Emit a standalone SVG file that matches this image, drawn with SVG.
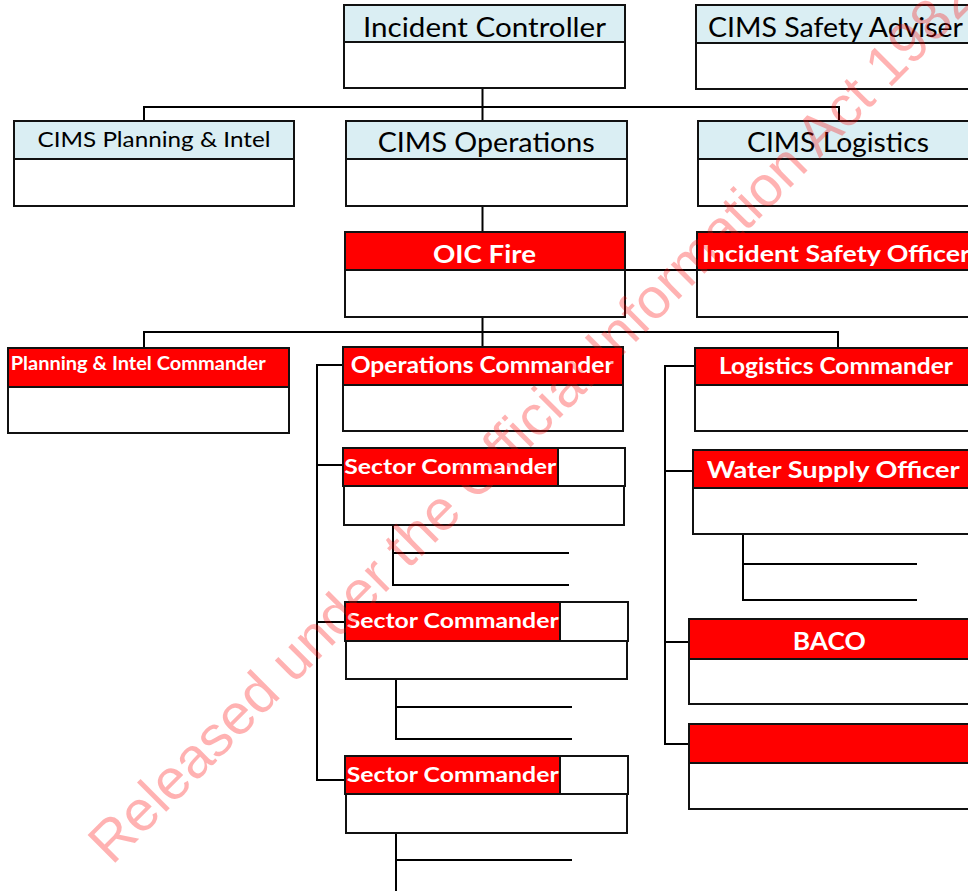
<svg xmlns="http://www.w3.org/2000/svg" width="968" height="891" viewBox="0 0 968 891">
<style>
.hb{fill:#DAEEF3;stroke:#111;stroke-width:2}
.hr{fill:#FF0000;stroke:#111;stroke-width:2}
.bd{fill:#fff;stroke:#111;stroke-width:2}
.wh{fill:#fff;stroke:#111;stroke-width:2}
.c{fill:none;stroke:#000;stroke-width:2}
.t1{font-family:Lato,"Liberation Sans",sans-serif;font-size:27px;fill:#000}
.t2{font-family:Lato,"Liberation Sans",sans-serif;font-size:22px;fill:#000}
.tw{font-family:Lato,"Liberation Sans",sans-serif;font-weight:bold;fill:#fff}
.wm{font-family:"Liberation Sans",Arial,sans-serif;font-size:57px;fill:#FF0000;fill-opacity:0.3}
</style>
<g id="connectors">
<path class="c" d="M482.5 88V121M144 121V107H839V121"/>
<path class="c" d="M482.5 206V232"/>
<path class="c" d="M625 270H697"/>
<path class="c" d="M482.5 317V347M144 348V332H838V348"/>
<path class="c" d="M343 365H317V780H345M317 465H343M317 622H345"/>
<path class="c" d="M695 366H665V744H689M665 471H693M665 642H689"/>
<path class="c" d="M393 525V585H569M393 553H569"/>
<path class="c" d="M396 679V739H572M396 707H572"/>
<path class="c" d="M396 833V895M396 860H572"/>
<path class="c" d="M743 534V600H917M743 564H917"/>
</g>
<g id="incident-controller">
<rect class="bd" x="344" y="42" width="281" height="46"/>
<rect class="hb" x="344" y="5" width="281" height="37"/>
<text class="t1" x="363" y="36.5" textLength="243" lengthAdjust="spacingAndGlyphs">Incident Controller</text>
</g>
<g id="cims-safety-adviser">
<rect class="bd" x="696" y="43" width="300" height="46"/>
<rect class="hb" x="696" y="5" width="300" height="38"/>
<text class="t1" x="708" y="37" textLength="255" lengthAdjust="spacingAndGlyphs">CIMS Safety Adviser</text>
</g>
<g id="cims-planning">
<rect class="bd" x="14" y="159" width="280" height="47"/>
<rect class="hb" x="14" y="121" width="280" height="38"/>
<text class="t2" x="37.5" y="147" textLength="233" lengthAdjust="spacingAndGlyphs">CIMS Planning &amp; Intel</text>
</g>
<g id="cims-operations">
<rect class="bd" x="346" y="159" width="281" height="47"/>
<rect class="hb" x="346" y="121" width="281" height="38"/>
<text class="t1" x="377.7" y="152" textLength="217" lengthAdjust="spacingAndGlyphs">CIMS Operations</text>
</g>
<g id="cims-logistics">
<rect class="bd" x="698" y="159" width="300" height="47"/>
<rect class="hb" x="698" y="121" width="300" height="38"/>
<text class="t1" x="747" y="152" textLength="182" lengthAdjust="spacingAndGlyphs">CIMS Logistics</text>
</g>
<g id="oic-fire">
<rect class="bd" x="345" y="270" width="280" height="47"/>
<rect class="hr" x="345" y="232" width="280" height="38"/>
<text class="tw" x="433" y="263" font-size="25.5" textLength="103" lengthAdjust="spacingAndGlyphs">OIC Fire</text>
</g>
<g id="incident-safety-officer">
<rect class="bd" x="697" y="270" width="300" height="47"/>
<rect class="hr" x="697" y="232" width="300" height="38"/>
<text class="tw" x="702" y="261.5" font-size="23" textLength="268" lengthAdjust="spacingAndGlyphs">Incident Safety Officer</text>
</g>
<g id="planning-intel-commander">
<rect class="bd" x="8" y="387" width="281" height="46"/>
<rect class="hr" x="8" y="348" width="281" height="39"/>
<text class="tw" x="10.7" y="370" font-size="18.5" textLength="255" lengthAdjust="spacingAndGlyphs">Planning &amp; Intel Commander</text>
</g>
<g id="operations-commander">
<rect class="bd" x="343" y="385" width="280" height="46"/>
<rect class="hr" x="343" y="347" width="280" height="38"/>
<text class="tw" x="350.7" y="372.5" font-size="23" textLength="263" lengthAdjust="spacingAndGlyphs">Operations Commander</text>
</g>
<g id="logistics-commander">
<rect class="bd" x="695" y="385" width="300" height="46"/>
<rect class="hr" x="695" y="348" width="300" height="37"/>
<text class="tw" x="719" y="374.3" font-size="22.5" textLength="234" lengthAdjust="spacingAndGlyphs">Logistics Commander</text>
</g>
<g id="sector-commander-1">
<rect class="bd" x="344" y="486" width="280" height="39"/>
<rect class="wh" x="343" y="448" width="282" height="38"/>
<rect class="hr" x="343" y="448" width="215" height="38"/>
<text class="tw" x="344.3" y="474.3" font-size="21.5" textLength="212" lengthAdjust="spacingAndGlyphs">Sector Commander</text>
</g>
<g id="water-supply-officer">
<rect class="bd" x="693" y="488" width="300" height="46"/>
<rect class="hr" x="693" y="450" width="300" height="38"/>
<text class="tw" x="706.7" y="477.7" font-size="23.5" textLength="253" lengthAdjust="spacingAndGlyphs">Water Supply Officer</text>
</g>
<g id="sector-commander-2">
<rect class="bd" x="346" y="641" width="281" height="38"/>
<rect class="wh" x="345" y="602" width="283" height="39"/>
<rect class="hr" x="345" y="602" width="215" height="39"/>
<text class="tw" x="346.7" y="628.3" font-size="21.5" textLength="212" lengthAdjust="spacingAndGlyphs">Sector Commander</text>
</g>
<g id="baco">
<rect class="bd" x="689" y="659" width="300" height="45"/>
<rect class="hr" x="689" y="619" width="300" height="40"/>
<text class="tw" x="792.7" y="650" font-size="25.5" textLength="73" lengthAdjust="spacingAndGlyphs">BACO</text>
</g>
<g id="sector-commander-3">
<rect class="bd" x="346" y="794" width="281" height="39"/>
<rect class="wh" x="345" y="756" width="283" height="38"/>
<rect class="hr" x="345" y="756" width="215" height="38"/>
<text class="tw" x="346.7" y="781.7" font-size="21.5" textLength="212" lengthAdjust="spacingAndGlyphs">Sector Commander</text>
</g>
<g id="unnamed-red">
<rect class="bd" x="689" y="763" width="300" height="46"/>
<rect class="hr" x="689" y="724" width="300" height="39"/>
</g>
<text class="wm" transform="translate(112 866) rotate(-45)">Released under the Official Information Act 1982</text>
</svg>
